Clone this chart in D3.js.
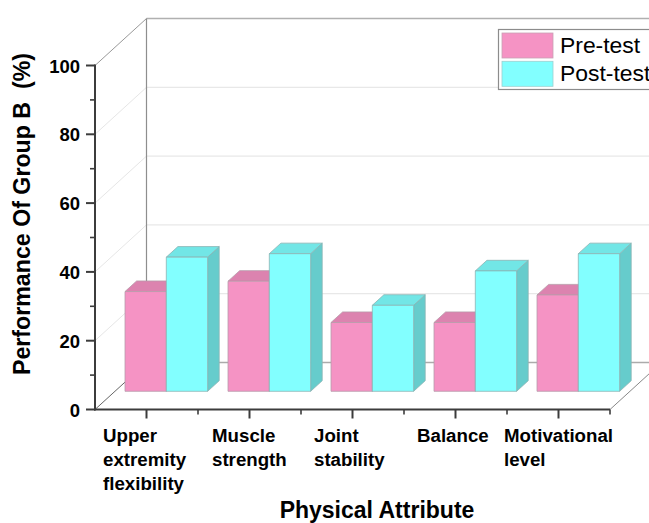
<!DOCTYPE html>
<html><head><meta charset="utf-8">
<script src="https://cdn.jsdelivr.net/npm/d3@7"></script>
<style>html,body{margin:0;padding:0;background:#fff;overflow:hidden}svg{display:block}
text{font-family:"Liberation Sans",Arial,sans-serif;fill:#000}</style></head>
<body><svg id="c" width="649" height="523"></svg>
<script>
const categories = ["Upper extremity flexibility","Muscle strength","Joint stability","Balance","Motivational level"];
const categoryLines = [["Upper","extremity","flexibility"],["Muscle","strength"],["Joint","stability"],["Balance"],["Motivational","level"]];
const preTest = [29, 32, 20, 20, 28];
const postTest = [39, 40, 25, 35, 40];
const seriesNames = ["Pre-test","Post-test"];
const yTicks = [0,20,40,60,80,100];
const yTitle = "Performance Of Group B  (%)";
const xTitle = "Physical Attribute";

const W=649,H=523;
const svg=d3.select("#c");
const y=d3.scaleLinear().domain([0,100]).range([409.5,65.5]);
const x=d3.scaleBand().domain(categories).range([95,610]);
const depthDx=51.5, depthDy=-47;
const colors={pre:{front:"#F593C4",top:"#DC83AF",side:"#DC83AF",stroke:"#B89AAA"},
              post:{front:"#82FFFF",top:"#72E6E6",side:"#66CCCC",stroke:"#8CB4B4"}};
const at=(px,py,d)=>[px+depthDx*d,py+depthDy*d];
const line=(a,b,c,w)=>svg.append("line").attr("x1",a[0]).attr("y1",a[1]).attr("x2",b[0]).attr("y2",b[1]).attr("stroke",c).attr("stroke-width",w);

// gridlines on the walls
d3.range(0,101,20).forEach(v=>{
  const p=at(95,y(v),1), isEdge=(v===0||v===100);
  if(v!==0) line([95,y(v)],p,v===100?"#999":"#E6E6E6",1);
  line(p,[W+5,p[1]],v===0?"#ABABAB":(v===100?"#B0B0B0":"#E8E8E8"),isEdge?1.6:1.2);
});
// back wall left edge and floor diagonals
line(at(95,y(100),1),at(95,y(0),1),"#8E8E8E",1.2);
line([95,y(0)],at(95,y(0),1),"#666",1);
line([610,y(0)],at(610,y(0),1),"#888",1);

// bars
const barDepth0=0.385, barDepth1=0.61;
const groupW=x.bandwidth(), barW=41.3;
const base=391.3;
const yShift=y(0)-base;
function bar(cx,val,c){
  const yTop=y(val)-yShift, x0=cx, x1=cx+barW;
  const dDx=depthDx*(barDepth1-barDepth0), dDy=depthDy*(barDepth1-barDepth0);
  const poly=(pts,f,s)=>svg.append("polygon").attr("points",pts.map(p=>p.join(",")).join(" ")).attr("fill",f).attr("stroke",s).attr("stroke-width",0.8);
  poly([[x1,yTop],[x1+dDx,yTop+dDy],[x1+dDx,base+dDy],[x1,base]],c.side,c.stroke);
  poly([[x0,yTop],[x0+dDx,yTop+dDy],[x1+dDx,yTop+dDy],[x1,yTop]],c.top,c.stroke);
  poly([[x0,yTop],[x1,yTop],[x1,base],[x0,base]],c.front,c.stroke);
}
categories.forEach((cat,i)=>{
  const c=x(cat)+groupW/2+depthDx*barDepth0;
  bar(c-barW,preTest[i],colors.pre);
  bar(c,postTest[i],colors.post);
});

// axes
const axisCol="#3c3c3c";
const yAxis=d3.axisLeft(y).tickValues(yTicks).tickSize(0).tickFormat(d3.format("d"));
const gy=svg.append("g").attr("transform","translate(95,0)").call(yAxis);
gy.select(".domain").remove();
gy.selectAll("text").attr("x",-15).attr("dy","0.36em").style("font-size","18.5px").style("font-weight","bold").style("font-family",'"Liberation Sans",Arial,sans-serif');
line([95,y(100)-1],[95,y(0)+1],axisCol,2);
d3.range(0,101,10).forEach(v=>line([v%20===0?86:90,y(v)],[95,y(v)],axisCol,v%20===0?2:1.6));

line([94,y(0)],[610,y(0)],axisCol,2);
categories.forEach((cat,i)=>{
  const c=x(cat)+groupW/2;
  line([c,y(0)],[c,y(0)+9],axisCol,2);
  line([x(cat)+groupW,y(0)],[x(cat)+groupW,y(0)+5],axisCol,1.6);
});

// category labels
const labelX=[103,212,314,417,504];
categoryLines.forEach((lines,i)=>{
  lines.forEach((t,j)=>svg.append("text").attr("x",labelX[i]).attr("y",442+j*24).attr("font-size",18.7).attr("font-weight","bold").text(t));
});
svg.append("text").attr("x",377).attr("y",518).attr("text-anchor","middle").attr("font-size",23).attr("font-weight","bold").text(xTitle);
svg.append("text").attr("transform","translate(30,214) rotate(-90)").attr("text-anchor","middle").attr("font-size",23.2).attr("font-weight","bold").style("white-space","pre").text(yTitle);

// legend
svg.append("rect").attr("x",498.5).attr("y",29.5).attr("width",170).attr("height",60).attr("fill","#fff").attr("stroke","#8c8c8c").attr("stroke-width",1.2);
seriesNames.forEach((s,i)=>{
  const c=i?colors.post:colors.pre;
  svg.append("rect").attr("x",502).attr("y",33+i*28.3).attr("width",51).attr("height",25).attr("fill",c.front).attr("stroke",i?"#9CD0D0":"#C9A0B4").attr("stroke-width",0.8);
  svg.append("text").attr("x",560).attr("y",53+i*28.3).attr("font-size",22.9).text(s);
});
</script></body></html>
